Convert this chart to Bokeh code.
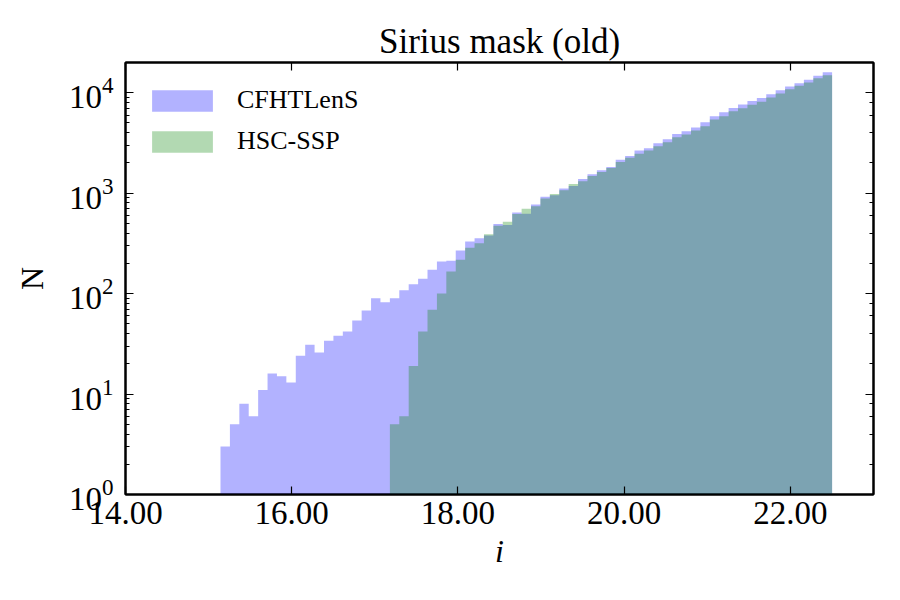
import numpy as np
from bokeh.plotting import figure
from bokeh.models import (Range1d, LinearAxis, LogAxis, FixedTicker,
                          NumeralTickFormatter, Legend, LegendItem, LogTicker,
                          CustomJSTickFormatter)
from bokeh.embed import file_html
from bokeh.resources import INLINE

# ---- data ----
bin_lo = 15.143
bin_hi = 22.502
n_bins = 65

cfht_counts = [3, 5, 8, 6, 11, 16, 15, 13, 24, 31, 26, 34, 38, 42, 54, 68, 90, 82,
               90, 108, 124, 141, 173, 209, 212,
               268, 330, 355, 378, 493, 482, 643, 624, 771, 919,
               955, 1111, 1181, 1386, 1542, 1690, 1821, 2151, 2340, 2666,
               2808, 3149, 3450, 3893, 4140, 4500, 5081, 5826, 6381, 7042,
               7656, 8260, 8840, 9683, 10610, 11540, 12440, 13450, 14730, 16000]

hsc_first_bin = 18
hsc_counts = [5, 6, 19, 42, 69, 100, 166,
              217, 287, 317, 389, 475, 520, 620, 700, 743, 884,
              984, 1071, 1236, 1315, 1483, 1625, 1779, 2042, 2253, 2466,
              2666, 2940, 3221, 3609, 3839, 4206, 4638, 5408, 5826, 6531,
              6996, 7603, 8147, 8985, 9840, 10860, 11730, 12650, 13950, 14940]

x_ticks = [14, 16, 18, 20, 22]
series_names = ["CFHTLenS", "HSC-SSP"]
series_colors = ["blue", "green"]
title_text = "Sirius mask (old)"

edges = np.linspace(bin_lo, bin_hi, n_bins + 1)


def step_outline(bin_edges, counts):
    # histogram outline ("stepfilled"): each count held across its bin
    xs = np.repeat(bin_edges, 2)[1:-1]
    ys = np.repeat(np.asarray(counts, dtype=float), 2)
    return xs, ys


FONT = "Liberation Serif"

p = figure(width=900, height=600, output_backend="svg", toolbar_location=None,
           x_range=Range1d(14, 23), y_range=Range1d(1, 2e4), y_axis_type="log",
           min_border_left=125, min_border_right=27, min_border_top=62,
           min_border_bottom=106)

p.grid.visible = False
p.outline_line_color = "black"
p.outline_line_width = 2
p.background_fill_color = "white"
p.border_fill_color = "white"

cx, cy = step_outline(edges, cfht_counts)
r1 = p.varea(x=cx, y1=np.ones_like(cy), y2=cy,
             fill_color=series_colors[0], fill_alpha=0.3)
hx, hy = step_outline(edges[hsc_first_bin:], hsc_counts)
r2 = p.varea(x=hx, y1=np.ones_like(hy), y2=hy,
             fill_color=series_colors[1], fill_alpha=0.3)

# axes
xax = p.xaxis[0]
xax.ticker = FixedTicker(ticks=x_ticks)
xax.formatter = NumeralTickFormatter(format="0.00")
yax = p.yaxis[0]

for ax in (xax, yax):
    ax.major_tick_in = 8
    ax.major_tick_out = 0
    ax.minor_tick_in = 4
    ax.minor_tick_out = 0
    ax.axis_line_width = 2
    ax.major_tick_line_width = 1.2
    ax.minor_tick_line_width = 1.2
    ax.major_label_text_font = FONT
    ax.major_label_text_font_size = "33px"
    ax.major_label_text_color = "black"
    ax.axis_label_text_font = FONT
    ax.axis_label_text_font_size = "32px"
    ax.axis_label_text_font_style = "normal"
    ax.axis_label_text_color = "black"

xax.major_label_standoff = 7
xax.axis_label = "i"
xax.axis_label_text_font_style = "italic"
xax.axis_label_standoff = 6
yax.major_label_standoff = 12
yax.axis_label = "N"
yax.axis_label_standoff = 16

top = LinearAxis(ticker=FixedTicker(ticks=x_ticks),
                 formatter=CustomJSTickFormatter(code="return ''"),
                 major_label_standoff=0, major_tick_in=8, major_tick_out=0,
                 minor_tick_in=0, minor_tick_out=0, axis_line_width=2,
                 major_tick_line_width=1.2)
p.add_layout(top, "above")
right = LogAxis(ticker=LogTicker(), formatter=CustomJSTickFormatter(code="return ''"),
                major_label_standoff=0, major_tick_in=8, major_tick_out=0,
                minor_tick_in=4, minor_tick_out=0, axis_line_width=2,
                major_tick_line_width=1.2, minor_tick_line_width=1.2)
p.add_layout(right, "right")

p.title.text = title_text
p.title.text_font = FONT
p.title.text_font_size = "35px"
p.title.text_font_style = "normal"
p.title.text_color = "black"
p.title.align = "center"
p.title.standoff = 4

legend = Legend(items=[LegendItem(label=series_names[0], renderers=[r1]),
                       LegendItem(label=series_names[1], renderers=[r2])],
                location=(19, 338), border_line_color=None,
                background_fill_alpha=0, margin=0, padding=10,
                glyph_width=76, glyph_height=27, label_height=27, spacing=11,
                label_standoff=17, label_text_font=FONT,
                label_text_font_size="26px", label_text_color="black")
p.add_layout(legend)

open("out.html", "w").write(file_html(p, INLINE))
